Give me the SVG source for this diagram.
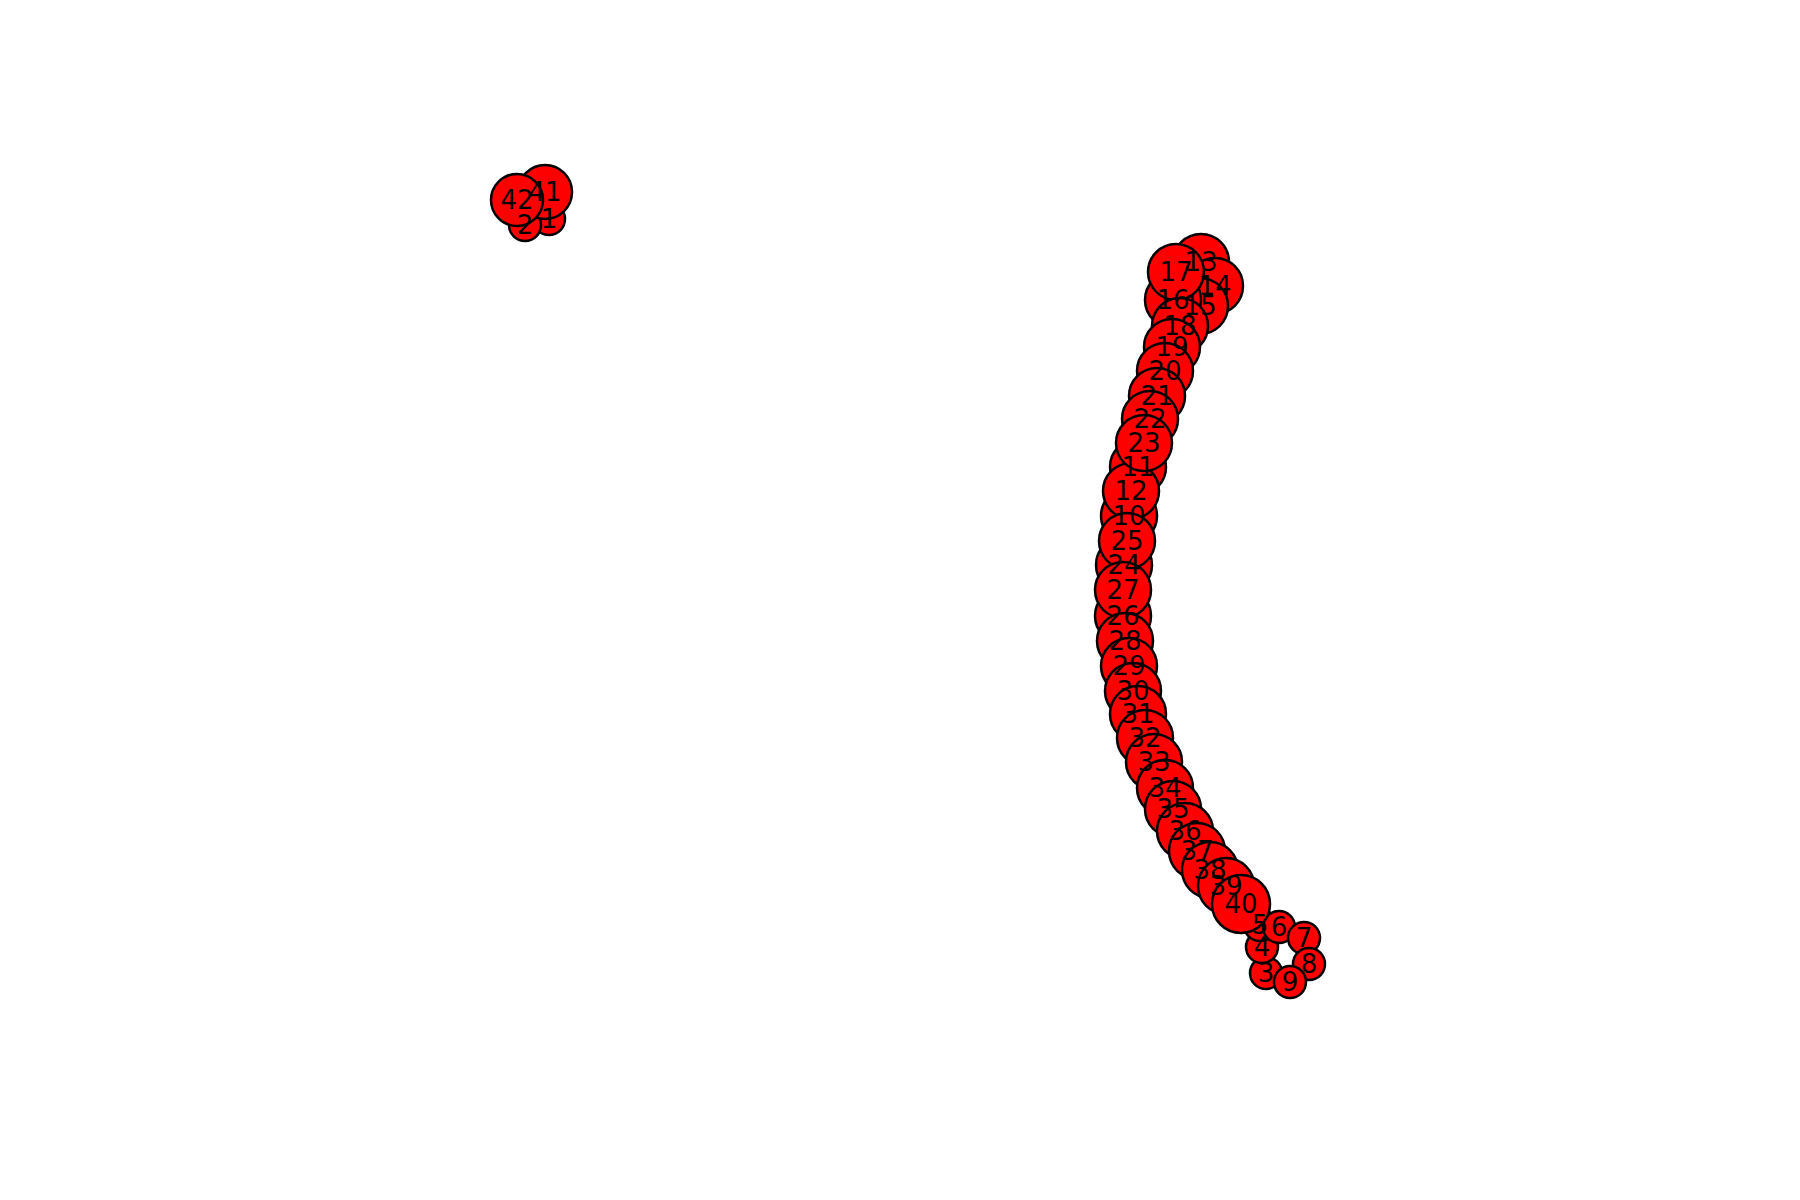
<svg xmlns="http://www.w3.org/2000/svg" width="1800" height="1200" viewBox="0 0 1800 1200">
<style>
.n circle{fill:#ff0000;stroke:#000;stroke-width:2.5}
.s circle{fill:#ff0000;stroke:#000;stroke-width:2.5}
text{font-family:"DejaVu Sans",sans-serif;font-size:26px;fill:#000;text-anchor:middle}
</style>
<rect width="1800" height="1200" fill="#fff"/>
<g id="connectors"></g>
<g id="nodes">
<g id="node1" class="s"><circle cx="549" cy="219" r="16"/></g>
<g id="node2" class="s"><circle cx="525" cy="225" r="16"/></g>
<g id="node3" class="s"><circle cx="1266" cy="973" r="16"/></g>
<g id="node4" class="s"><circle cx="1262" cy="947" r="16"/></g>
<g id="node5" class="s"><circle cx="1260" cy="925" r="16"/></g>
<g id="node6" class="s"><circle cx="1279" cy="927" r="16"/></g>
<g id="node7" class="s"><circle cx="1304" cy="938" r="16"/></g>
<g id="node8" class="s"><circle cx="1309" cy="964" r="16"/></g>
<g id="node9" class="s"><circle cx="1290" cy="982" r="16"/></g>
<g id="node10" class="n"><circle cx="1129" cy="516" r="28"/></g>
<g id="node11" class="n"><circle cx="1138" cy="467" r="28"/></g>
<g id="node12" class="n"><circle cx="1131" cy="491" r="28"/></g>
<g id="node13" class="n"><circle cx="1201" cy="262" r="28"/></g>
<g id="node14" class="n"><circle cx="1215" cy="286" r="28"/></g>
<g id="node15" class="n"><circle cx="1200" cy="306" r="28"/></g>
<g id="node16" class="n"><circle cx="1173" cy="300" r="28"/></g>
<g id="node17" class="n"><circle cx="1176" cy="272" r="28"/></g>
<g id="node18" class="n"><circle cx="1180" cy="326" r="28"/></g>
<g id="node19" class="n"><circle cx="1172" cy="347" r="28"/></g>
<g id="node20" class="n"><circle cx="1165" cy="371" r="28"/></g>
<g id="node21" class="n"><circle cx="1157" cy="396" r="28"/></g>
<g id="node22" class="n"><circle cx="1150" cy="419" r="28"/></g>
<g id="node23" class="n"><circle cx="1144" cy="443" r="28"/></g>
<g id="node24" class="n"><circle cx="1124" cy="565" r="28"/></g>
<g id="node25" class="n"><circle cx="1127" cy="541" r="28"/></g>
<g id="node26" class="n"><circle cx="1123" cy="616" r="28"/></g>
<g id="node27" class="n"><circle cx="1123" cy="590" r="28"/></g>
<g id="node28" class="n"><circle cx="1125" cy="641" r="28"/></g>
<g id="node29" class="n"><circle cx="1129" cy="666" r="28"/></g>
<g id="node30" class="n"><circle cx="1133" cy="691" r="28"/></g>
<g id="node31" class="n"><circle cx="1138" cy="714" r="28"/></g>
<g id="node32" class="n"><circle cx="1145" cy="738" r="28"/></g>
<g id="node33" class="n"><circle cx="1154" cy="762" r="28"/></g>
<g id="node34" class="n"><circle cx="1165" cy="788" r="28"/></g>
<g id="node35" class="n"><circle cx="1173" cy="809" r="28"/></g>
<g id="node36" class="n"><circle cx="1185" cy="831" r="28"/></g>
<g id="node37" class="n"><circle cx="1197" cy="851" r="28"/></g>
<g id="node38" class="n"><circle cx="1210" cy="870" r="28"/></g>
<g id="node39" class="n"><circle cx="1226" cy="886" r="28"/></g>
<g id="node40" class="n"><circle cx="1241" cy="904" r="29"/></g>
<g id="node41" class="n"><circle cx="545" cy="192" r="27"/></g>
<g id="node42" class="n"><circle cx="517" cy="200" r="26"/></g>
</g>
<g id="labels">
<text x="549" y="228">1</text>
<text x="525" y="234">2</text>
<text x="1266" y="982">3</text>
<text x="1262" y="956">4</text>
<text x="1260" y="934">5</text>
<text x="1279" y="936">6</text>
<text x="1304" y="947">7</text>
<text x="1309" y="973">8</text>
<text x="1290" y="991">9</text>
<text x="1129" y="525">10</text>
<text x="1138" y="476">11</text>
<text x="1131" y="500">12</text>
<text x="1201" y="271">13</text>
<text x="1215" y="295">14</text>
<text x="1200" y="315">15</text>
<text x="1173" y="309">16</text>
<text x="1176" y="281">17</text>
<text x="1180" y="335">18</text>
<text x="1172" y="356">19</text>
<text x="1165" y="380">20</text>
<text x="1157" y="405">21</text>
<text x="1150" y="428">22</text>
<text x="1144" y="452">23</text>
<text x="1124" y="574">24</text>
<text x="1127" y="550">25</text>
<text x="1123" y="625">26</text>
<text x="1123" y="599">27</text>
<text x="1125" y="650">28</text>
<text x="1129" y="675">29</text>
<text x="1133" y="700">30</text>
<text x="1138" y="723">31</text>
<text x="1145" y="747">32</text>
<text x="1154" y="771">33</text>
<text x="1165" y="797">34</text>
<text x="1173" y="818">35</text>
<text x="1185" y="840">36</text>
<text x="1197" y="860">37</text>
<text x="1210" y="879">38</text>
<text x="1226" y="895">39</text>
<text x="1241" y="913">40</text>
<text x="545" y="201">41</text>
<text x="517" y="209">42</text>
</g>
</svg>
